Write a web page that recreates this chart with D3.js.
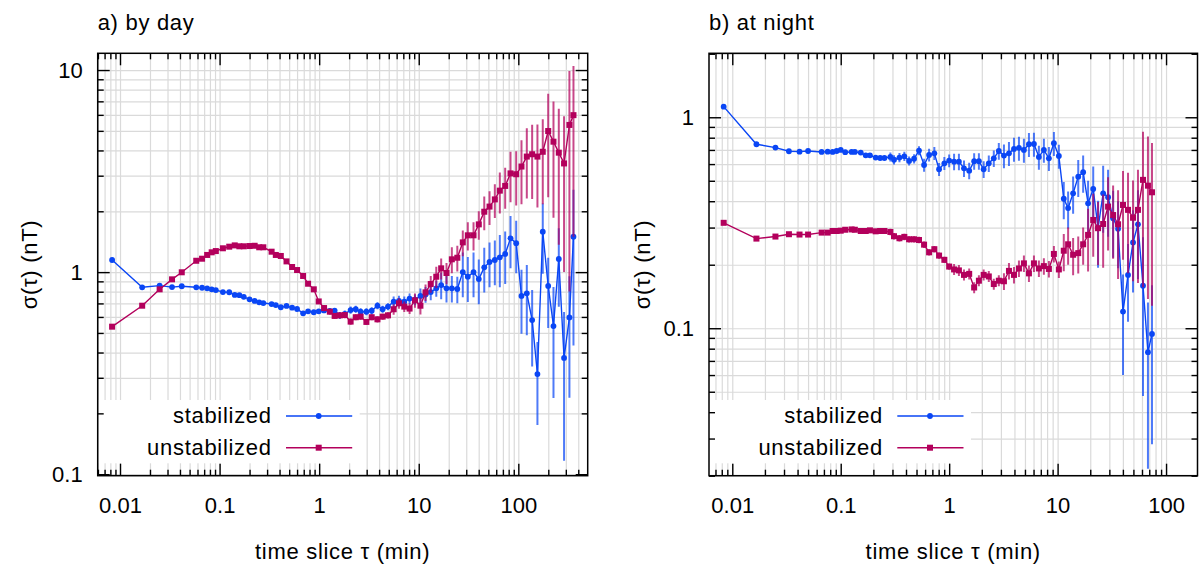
<!DOCTYPE html>
<html>
<head>
<meta charset="utf-8">
<script src="https://cdn.jsdelivr.net/npm/d3@7"></script>
<style>
  body { margin: 0; background: #fff; }
  svg text { font-family: "Liberation Sans", Arial, sans-serif; font-size: 22px; fill: #000; }
</style>
</head>
<body>
<svg id="chart" width="1199" height="566"></svg>
<script>
'use strict';

// time slices (min), day panel
var tauDay = [0.00833, 0.0167, 0.025, 0.0333, 0.0417, 0.0583, 0.0667, 0.075, 0.0833, 0.0917,
	0.108, 0.125, 0.142, 0.158, 0.175, 0.2, 0.225, 0.25, 0.275, 0.333,
	0.367, 0.412, 0.47, 0.535, 0.60, 0.69, 0.774, 0.883, 0.99, 1.12,
	1.28, 1.43, 1.61, 1.81, 2.07, 2.33, 2.61, 2.98, 3.37, 3.85,
	4.34, 4.91, 5.6, 6.33, 7.16, 8.09, 9.16, 10.4, 11.7, 13.2,
	15.0, 16.8, 19.0, 21.5, 24.4, 27.7, 31.1, 35.5, 40.1, 45.5,
	51.4, 58.1, 65.2, 73.8, 83.5, 95.2, 107.6, 121.7, 137.7, 155.6,
	176, 199.5, 225.5, 255, 288, 326, 358];

var dayStab = [1.148, 0.841, 0.857, 0.843, 0.851, 0.841, 0.837, 0.831, 0.822, 0.815,
	0.797, 0.795, 0.771, 0.769, 0.755, 0.733, 0.720, 0.709, 0.703, 0.695,
	0.687, 0.670, 0.680, 0.667, 0.657, 0.625, 0.640, 0.633, 0.640, 0.646,
	0.643, 0.645, 0.611, 0.621, 0.649, 0.655, 0.637, 0.637, 0.644, 0.682,
	0.655, 0.675, 0.714, 0.720, 0.714, 0.740, 0.730, 0.762, 0.775, 0.797,
	0.831, 0.863, 0.831, 0.831, 0.825, 1.000, 0.949, 1.000, 0.924, 1.056,
	1.122, 1.148, 1.184, 1.230, 1.470, 1.390, 0.762, 0.785, 0.579, 0.313,
	1.585, 0.854, 0.541, 1.161, 0.376, 0.597, 1.496];
// error bars as fraction of sigma
var dayStabErr = [0.01, 0.01, 0.01, 0.01, 0.01, 0.01, 0.01, 0.01, 0.01, 0.01,
	0.01, 0.01, 0.01, 0.01, 0.01, 0.01, 0.01, 0.01, 0.01, 0.01,
	0.01, 0.01, 0.01, 0.01, 0.01, 0.01, 0.01, 0.01, 0.01, 0.01,
	0.01, 0.01, 0.04, 0.04, 0.04, 0.04, 0.04, 0.04, 0.04, 0.04,
	0.04, 0.04, 0.06, 0.06, 0.06, 0.06, 0.06, 0.09, 0.09, 0.09,
	0.09, 0.15, 0.15, 0.15, 0.15, 0.25, 0.25, 0.25, 0.25, 0.25,
	0.25, 0.25, 0.29, 0.29, 0.29, 0.29, 0.35, 0.38, 0.41, 0.44,
	0.38, 0.38, 0.56, 0.42, 0.69, 0.60, 0.71];

var dayUnstab = [0.537, 0.682, 0.822, 0.921, 0.998, 1.138, 1.165, 1.216, 1.253, 1.271,
	1.312, 1.336, 1.356, 1.342, 1.342, 1.346, 1.350, 1.327, 1.327, 1.262,
	1.216, 1.202, 1.130, 1.060, 1.024, 0.957, 0.876, 0.822, 0.716, 0.664,
	0.637, 0.607, 0.611, 0.613, 0.569, 0.598, 0.602, 0.567, 0.598, 0.584,
	0.602, 0.611, 0.655, 0.701, 0.675, 0.660, 0.725, 0.682, 0.794, 0.873,
	0.949, 1.044, 0.990, 1.157, 1.178, 1.403, 1.521, 1.521, 1.723, 1.990,
	2.110, 2.290, 2.530, 2.670, 3.080, 3.050, 3.330, 3.730, 3.830, 3.730,
	3.940, 4.990, 4.420, 3.900, 3.450, 5.350, 5.980];
var dayUnstabErr = [0.01, 0.01, 0.01, 0.01, 0.01, 0.01, 0.01, 0.01, 0.01, 0.01,
	0.01, 0.01, 0.01, 0.01, 0.01, 0.01, 0.01, 0.01, 0.01, 0.01,
	0.01, 0.01, 0.01, 0.01, 0.01, 0.01, 0.01, 0.01, 0.01, 0.035,
	0.035, 0.035, 0.035, 0.035, 0.035, 0.035, 0.035, 0.035, 0.035, 0.035,
	0.035, 0.035, 0.06, 0.06, 0.06, 0.06, 0.08, 0.095, 0.095, 0.095,
	0.12, 0.12, 0.12, 0.146, 0.146, 0.146, 0.16, 0.16, 0.16, 0.19,
	0.19, 0.19, 0.23, 0.23, 0.28, 0.30, 0.35, 0.38, 0.40, 0.44,
	0.45, 0.53, 0.58, 0.65, 0.71, 0.85, 0.75];

// time slices (min), night panel
var tauNight = [0.00833, 0.0167, 0.025, 0.0333, 0.0417, 0.05, 0.0667, 0.0758, 0.0842, 0.0917,
	0.1, 0.11, 0.126, 0.135, 0.153, 0.17, 0.186, 0.21, 0.231, 0.253,
	0.287, 0.31, 0.348, 0.386, 0.427, 0.475, 0.527, 0.587, 0.653, 0.73,
	0.807, 0.903, 1.0, 1.11, 1.23, 1.37, 1.53, 1.70, 1.88, 2.08,
	2.32, 2.58, 2.87, 3.2, 3.56, 3.96, 4.4, 4.89, 5.44, 6.05,
	6.72, 7.47, 8.31, 9.24, 10.27, 11.4, 12.5, 13.9, 15.5, 17.2,
	19.1, 21.3, 23.6, 26.3, 29.2, 32.5, 36.1, 40.1, 44.6, 49.6,
	55.1, 61.3, 68.1, 74.2];

var nightStab = [1.123, 0.745, 0.718, 0.690, 0.687, 0.692, 0.685, 0.687, 0.685, 0.692,
	0.700, 0.683, 0.685, 0.685, 0.680, 0.660, 0.660, 0.644, 0.641, 0.641,
	0.649, 0.629, 0.644, 0.653, 0.621, 0.636, 0.695, 0.594, 0.663, 0.675,
	0.567, 0.605, 0.623, 0.616, 0.616, 0.573, 0.558, 0.619, 0.619, 0.567,
	0.605, 0.639, 0.692, 0.658, 0.675, 0.708, 0.716, 0.700, 0.745, 0.747,
	0.649, 0.700, 0.639, 0.753, 0.656, 0.411, 0.371, 0.436, 0.523, 0.549,
	0.391, 0.457, 0.298, 0.436, 0.418, 0.332, 0.296, 0.120, 0.179, 0.255,
	0.311, 0.159, 0.077, 0.094];
var nightStabErr = [0.01, 0.01, 0.01, 0.01, 0.01, 0.01, 0.01, 0.01, 0.01, 0.01,
	0.01, 0.01, 0.01, 0.01, 0.01, 0.01, 0.01, 0.01, 0.01, 0.01,
	0.05, 0.05, 0.05, 0.05, 0.05, 0.05, 0.05, 0.07, 0.07, 0.07,
	0.07, 0.07, 0.07, 0.09, 0.09, 0.09, 0.09, 0.09, 0.09, 0.09,
	0.09, 0.09, 0.09, 0.13, 0.13, 0.13, 0.13, 0.13, 0.13, 0.13,
	0.13, 0.13, 0.13, 0.13, 0.13, 0.20, 0.20, 0.20, 0.20, 0.20,
	0.28, 0.28, 0.35, 0.35, 0.35, 0.35, 0.35, 0.50, 0.40, 0.42,
	0.45, 0.70, 0.72, 0.70];

var nightUnstab = [0.316, 0.266, 0.272, 0.279, 0.278, 0.278, 0.284, 0.284, 0.289, 0.289,
	0.290, 0.293, 0.294, 0.293, 0.289, 0.289, 0.291, 0.288, 0.289, 0.289,
	0.286, 0.273, 0.267, 0.271, 0.264, 0.264, 0.262, 0.249, 0.229, 0.237,
	0.221, 0.211, 0.196, 0.190, 0.188, 0.179, 0.181, 0.156, 0.168, 0.179,
	0.176, 0.162, 0.168, 0.167, 0.187, 0.179, 0.192, 0.203, 0.182, 0.203,
	0.192, 0.197, 0.191, 0.225, 0.190, 0.233, 0.250, 0.223, 0.227, 0.250,
	0.277, 0.326, 0.298, 0.312, 0.377, 0.344, 0.311, 0.384, 0.364, 0.334,
	0.364, 0.505, 0.474, 0.441];
var nightUnstabErr = [0.01, 0.01, 0.01, 0.01, 0.01, 0.01, 0.01, 0.01, 0.01, 0.01,
	0.01, 0.01, 0.01, 0.01, 0.01, 0.01, 0.01, 0.01, 0.01, 0.01,
	0.035, 0.035, 0.035, 0.035, 0.035, 0.035, 0.035, 0.035, 0.035, 0.035,
	0.035, 0.035, 0.035, 0.06, 0.06, 0.06, 0.06, 0.06, 0.06, 0.06,
	0.06, 0.06, 0.06, 0.09, 0.09, 0.09, 0.09, 0.09, 0.09, 0.09,
	0.09, 0.09, 0.09, 0.09, 0.09, 0.20, 0.20, 0.20, 0.20, 0.20,
	0.33, 0.33, 0.33, 0.38, 0.38, 0.38, 0.45, 0.45, 0.50, 0.50,
	0.55, 0.69, 0.71, 0.71];

var xTickLabels = ['0.01', '0.1', '1', '10', '100'];
var yTickLabelsDay = ['0.1', '1', '10'];
var yTickLabelsNight = ['0.1', '1'];
var seriesNames = ['stabilized', 'unstabilized'];
var seriesColors = ['#0a46f5', '#b3005c'];

var svg = d3.select('#chart');

function logTicks(dom) {
	var out = [];
	var e0 = Math.floor(Math.log10(dom[0])), e1 = Math.ceil(Math.log10(dom[1]));
	for (var e = e0; e <= e1; e++) {
		for (var k = 2; k <= 9; k++) {
			var v = +(k * Math.pow(10, e)).toPrecision(6);
			if (v >= dom[0] && v <= dom[1]) out.push(v);
		}
	}
	return out;
}

function styleAxis(sel) {
	sel.select('.domain').remove();
	sel.attr('font-size', null).attr('font-family', null);
	sel.selectAll('line').attr('stroke', '#000').attr('stroke-width', 1.4);
}

function drawPanel(p) {
	var w = p.right - p.left, h = p.bottom - p.top;
	var g = svg.append('g').attr('transform', 'translate(' + p.left + ',' + p.top + ')');
	var x = d3.scaleLog().domain(p.xDomain).range([0, w]);
	var y = d3.scaleLog().domain(p.yDomain).range([h, 0]);

	var xMajor = xTickLabels.map(Number), yMajor = p.yLabels.map(Number);
	var xMinor = logTicks(p.xDomain), yMinor = logTicks(p.yDomain);

	// grid
	var grid = g.append('g');
	grid.append('g').attr('transform', 'translate(0,' + h + ')')
		.call(d3.axisBottom(x).tickValues(xMajor.concat(xMinor)).tickSize(-h).tickFormat(''));
	grid.append('g')
		.call(d3.axisLeft(y).tickValues(yMajor.concat(yMinor)).tickSize(-w).tickFormat(''));
	grid.selectAll('.domain').remove();
	grid.selectAll('line').attr('stroke', '#dadada').attr('stroke-width', 1.2);

	// key background
	g.append('rect').attr('x', 1).attr('y', 346.7).attr('width', 261).attr('height', 63.3).attr('fill', '#fff');

	// data
	g.append('clipPath').attr('id', 'clip-' + p.id)
		.append('rect').attr('width', w).attr('height', h);
	var plot = g.append('g').attr('clip-path', 'url(#clip-' + p.id + ')');

	p.series.forEach(function (s, si) {
		var col = seriesColors[si];
		var pts = s.tau.map(function (t, i) {
			return { t: t, v: s.vals[i], e: s.vals[i] * s.err[i] };
		});
		plot.append('g').selectAll('line').data(pts).enter().append('line')
			.attr('x1', function (d) { return x(d.t); })
			.attr('x2', function (d) { return x(d.t); })
			.attr('y1', function (d) { return y(Math.max(d.v - d.e, p.yDomain[0] * 0.5)); })
			.attr('y2', function (d) { return y(d.v + d.e); })
			.attr('stroke', col).attr('stroke-opacity', 0.72).attr('stroke-width', 2);
		plot.append('path').datum(pts)
			.attr('d', d3.line().x(function (d) { return x(d.t); }).y(function (d) { return y(d.v); }))
			.attr('fill', 'none').attr('stroke', col).attr('stroke-width', 1.4);
		var mk = plot.append('g').attr('fill', col);
		if (si === 0) {
			mk.selectAll('circle').data(pts).enter().append('circle')
				.attr('cx', function (d) { return x(d.t); })
				.attr('cy', function (d) { return y(d.v); })
				.attr('r', 2.9);
		} else {
			mk.selectAll('rect').data(pts).enter().append('rect')
				.attr('x', function (d) { return x(d.t) - 3; })
				.attr('y', function (d) { return y(d.v) - 3; })
				.attr('width', 6).attr('height', 6);
		}
	});

	// ticks, all four sides, pointing inward
	var ax = g.append('g');
	ax.append('g').attr('transform', 'translate(0,' + h + ')')
		.call(d3.axisBottom(x).tickValues(xMajor).tickSize(-12).tickPadding(22)
			.tickFormat(function (d, i) { return xTickLabels[i]; }))
		.call(styleAxis);
	ax.append('g').attr('transform', 'translate(0,' + h + ')')
		.call(d3.axisBottom(x).tickValues(xMinor).tickSize(-6).tickFormat('')).call(styleAxis);
	ax.append('g').call(d3.axisTop(x).tickValues(xMajor).tickSize(-12).tickFormat('')).call(styleAxis);
	ax.append('g').call(d3.axisTop(x).tickValues(xMinor).tickSize(-6).tickFormat('')).call(styleAxis);
	ax.append('g')
		.call(d3.axisLeft(y).tickValues(yMajor).tickSize(-12).tickPadding(15)
			.tickFormat(function (d, i) { return p.yLabels[i]; }))
		.call(styleAxis);
	ax.append('g').call(d3.axisLeft(y).tickValues(yMinor).tickSize(-6).tickFormat('')).call(styleAxis);
	ax.append('g').attr('transform', 'translate(' + w + ',0)')
		.call(d3.axisRight(y).tickValues(yMajor).tickSize(-12).tickFormat('')).call(styleAxis);
	ax.append('g').attr('transform', 'translate(' + w + ',0)')
		.call(d3.axisRight(y).tickValues(yMinor).tickSize(-6).tickFormat('')).call(styleAxis);

	g.append('rect').attr('width', w).attr('height', h)
		.attr('fill', 'none').attr('stroke', '#000').attr('stroke-width', 1.5);

	// key
	seriesNames.forEach(function (name, si) {
		var ry = 362.7 + si * 31.7;
		g.append('text').attr('x', 174).attr('y', ry + 7.5).attr('text-anchor', 'end')
			.attr('letter-spacing', '0.7px').text(name);
		g.append('line').attr('x1', 188.3).attr('x2', 254.5).attr('y1', ry).attr('y2', ry)
			.attr('stroke', seriesColors[si]).attr('stroke-width', 1.4);
		if (si === 0) {
			g.append('circle').attr('cx', 221).attr('cy', ry).attr('r', 2.9).attr('fill', seriesColors[si]);
		} else {
			g.append('rect').attr('x', 218).attr('y', ry - 3).attr('width', 6).attr('height', 6)
				.attr('fill', seriesColors[si]);
		}
	});

	// titles and labels
	svg.append('text').attr('x', p.left).attr('y', 29.5).attr('letter-spacing', '0.7px').text(p.title);
	svg.append('text').attr('x', p.left + w / 2).attr('y', 558.5).attr('text-anchor', 'middle')
		.attr('letter-spacing', '0.7px').text('time slice τ (min)');
	svg.append('text').attr('transform', 'translate(' + p.ylabelX + ',' + (p.top + h / 2) + ') rotate(-90)')
		.attr('text-anchor', 'middle').attr('letter-spacing', '0.7px').text('σ(τ) (nT)');
}

drawPanel({
	id: 'day', title: 'a) by day',
	left: 97.7, right: 587.7, top: 53.3, bottom: 475.7,
	xDomain: [0.00597, 497.5], yDomain: [0.0983, 12.1],
	yLabels: yTickLabelsDay, ylabelX: 37,
	series: [
		{ tau: tauDay, vals: dayStab, err: dayStabErr },
		{ tau: tauDay, vals: dayUnstab, err: dayUnstabErr }
	]
});

drawPanel({
	id: 'night', title: 'b) at night',
	left: 709, right: 1197.5, top: 53.3, bottom: 475.7,
	xDomain: [0.0061, 195], yDomain: [0.02, 2.01],
	yLabels: yTickLabelsNight, ylabelX: 650,
	series: [
		{ tau: tauNight, vals: nightStab, err: nightStabErr },
		{ tau: tauNight, vals: nightUnstab, err: nightUnstabErr }
	]
});
</script>
</body>
</html>
